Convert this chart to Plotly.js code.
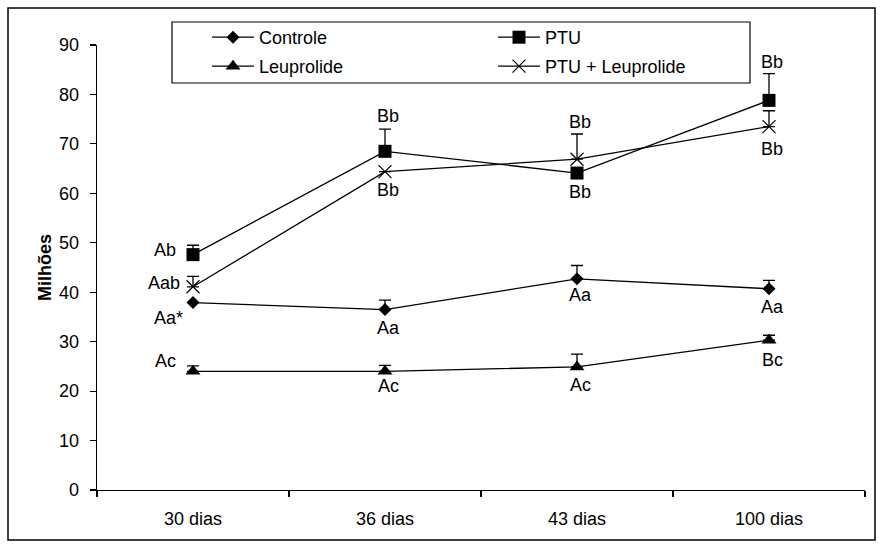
<!DOCTYPE html>
<html>
<head>
<meta charset="utf-8">
<script src="https://cdn.plot.ly/plotly-3.0.1.min.js"></script>
<style>body{margin:0;background:#fff;} #chart{width:881px;height:550px;}</style>
</head>
<body>
<div id="chart"></div>
<script>
// ---- data ----
const categories = ["30 dias", "36 dias", "43 dias", "100 dias"];

const controle = [37.9, 36.5, 42.7, 40.7];
const controleErr = [0, 1.9, 2.7, 1.7];
const controleLabels = ["Aa*", "Aa", "Aa", "Aa"];

const ptu = [47.6, 68.5, 64.1, 78.8];
const ptuErr = [1.9, 4.5, 0, 5.4];
const ptuLabels = ["Ab", "Bb", "Bb", "Bb"];

const leuprolide = [24.0, 24.0, 24.9, 30.3];
const leuprolideErr = [1.1, 1.2, 2.6, 1.0];
const leuprolideLabels = ["Ac", "Ac", "Ac", "Bc"];

const ptuLeu = [41.1, 64.4, 66.9, 73.5];
const ptuLeuErr = [2.1, 0, 5.1, 3.2];
const ptuLeuLabels = ["Aab", "Bb", "Bb", "Bb"];

// ---- layout geometry (pixels) ----
const W = 881, H = 550;
const M = {l: 97, r: 16, t: 45, b: 60};
const pw = W - M.l - M.r, ph = H - M.t - M.b;
const px2x = p => (p - M.l) / pw;
const py2y = p => (H - M.b - p) / ph;

const FONT = "Liberation Sans, Arial, sans-serif";
const black = "#000";

function series(name, y, err, symbol, size, legend) {
  return {
    type: "scatter", mode: "lines+markers", name: name,
    x: categories, y: y, legend: legend,
    line: {color: black, width: 1.3},
    marker: {symbol: symbol, size: size, color: black,
             line: {color: black, width: symbol.indexOf("open") >= 0 ? 1.2 : 0}},
    error_y: {type: "data", symmetric: false, array: err,
              arrayminus: err.map(() => 0), color: black, thickness: 1.3, width: 6},
    cliponaxis: false
  };
}

const traces = [
  series("Controle", controle, controleErr, "diamond", 10, "legend"),
  series("PTU", ptu, ptuErr, "square", 13, "legend"),
  series("Leuprolide", leuprolide, leuprolideErr, "triangle-up", 13, "legend2"),
  series("PTU + Leuprolide", ptuLeu, ptuLeuErr, "x-thin-open", 13, "legend2")
];

// label offsets (style: xshift, yshift in px) per series and category
const labelSets = [
  {y: controle,   t: controleLabels,   xs: [-25, 3, 3, 3], ys: [-15, -18, -16, -18]},
  {y: ptu,        t: ptuLabels,        xs: [-28, 3, 3, 3], ys: [5, 35, -19, 38]},
  {y: leuprolide, t: leuprolideLabels, xs: [-28, 3, 3, 3], ys: [10, -15, -18, -20]},
  {y: ptuLeu,     t: ptuLeuLabels,     xs: [-29, 3, 3, 3], ys: [4, -18, 37, -22]}
];
const annotations = [];
labelSets.forEach(s => {
  s.t.forEach((txt, i) => {
    annotations.push({
      x: categories[i], y: s.y[i], xref: "x", yref: "y",
      text: txt, showarrow: false, xanchor: "center", yanchor: "middle",
      xshift: s.xs[i], yshift: s.ys[i],
      font: {family: FONT, size: 18, color: black}
    });
  });
});

const shapes = [
  // outer chart frame
  {type: "rect", xref: "paper", yref: "paper",
   x0: px2x(8), x1: px2x(875), y0: py2y(540), y1: py2y(8),
   line: {color: black, width: 1.5}, fillcolor: "rgba(0,0,0,0)", layer: "below"},
  // legend box
  {type: "rect", xref: "paper", yref: "paper",
   x0: px2x(172), x1: px2x(750), y0: py2y(83), y1: py2y(22),
   line: {color: black, width: 1.2}, fillcolor: "#fff", layer: "above"}
];

const legendBase = {
  orientation: "h", xanchor: "left", yanchor: "top",
  entrywidthmode: "pixels", entrywidth: 229, itemwidth: 42,
  bgcolor: "rgba(0,0,0,0)", borderwidth: 0,
  font: {family: FONT, size: 18, color: black}
};

const layout = {
  width: W, height: H,
  margin: M,
  paper_bgcolor: "#fff", plot_bgcolor: "#fff",
  showlegend: true,
  legend: Object.assign({}, legendBase, {x: px2x(207), y: py2y(19)}),
  legend2: Object.assign({}, legendBase, {x: px2x(207), y: py2y(48)}),
  xaxis: {
    type: "category", tickson: "boundaries", ticks: "outside", ticklen: 6,
    tickcolor: black, tickwidth: 1.2, showline: true, linecolor: black, linewidth: 1.3,
    showgrid: false, zeroline: false, range: [-0.5, 3.5], ticklabelstandoff: 12,
    tickfont: {family: FONT, size: 18, color: black}
  },
  yaxis: {
    range: [0, 90], dtick: 10, tick0: 0, ticks: "outside", ticklen: 6,
    tickcolor: black, tickwidth: 1.2, showline: true, linecolor: black, linewidth: 1.3,
    showgrid: false, zeroline: false, ticklabelstandoff: 7,
    tickfont: {family: FONT, size: 18, color: black},
    title: {text: "<b>Milhões</b>", standoff: 2,
            font: {family: FONT, size: 18, color: black}}
  },
  annotations: annotations,
  shapes: shapes
};

Plotly.newPlot("chart", traces, layout, {displayModeBar: false, staticPlot: true});
</script>
</body>
</html>
